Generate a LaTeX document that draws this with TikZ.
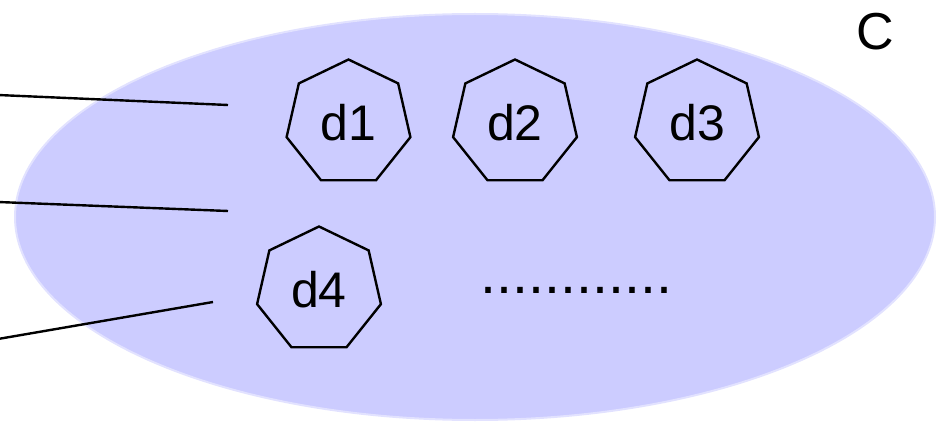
\documentclass[tikz,border=0pt]{standalone}
\usepackage{fontspec}
\setmainfont{Liberation Sans}
\usetikzlibrary{shapes.geometric}
\definecolor{setfill}{HTML}{CCCCFF}
\definecolor{setedge}{HTML}{E2E2FF}
\tikzset{
  hept/.style={regular polygon, regular polygon sides=7, minimum size=127pt, inner sep=0pt,
    draw=black, line width=2.4pt, font=\fontsize{50}{60}\selectfont},
  wire/.style={draw=black, line width=2.4pt},
  setshape/.style={ellipse, minimum width=920pt, minimum height=406pt, inner sep=0pt,
    fill=setfill, draw=setedge, line width=2pt}
}
\begin{document}
\begin{tikzpicture}[x=1pt,y=-1pt]
\useasboundingbox (0,0) rectangle (942,422);
\node[setshape] (set) at (475,217) {};
\node[font=\fontsize{52}{62}\selectfont] (C) at (875,32) {C};
\node[hept] (d1) at (348.5,123) {d1};
\node[hept] (d2) at (515,123) {d2};
\node[hept] (d3) at (697,123) {d3};
\node[hept] (d4) at (319,290) {d4};
\node[anchor=base west, inner sep=0pt, font=\fontsize{57.5}{66}\selectfont] (dots) at (480,293) {............};
\coordinate (a1) at (-2,95);
\coordinate (b1) at (228,105);
\coordinate (a2) at (-2,202);
\coordinate (b2) at (228,211);
\coordinate (a3) at (-2,339);
\coordinate (b3) at (213,302);
\draw[wire] (a1) -- (b1);
\draw[wire] (a2) -- (b2);
\draw[wire] (a3) -- (b3);
\end{tikzpicture}
\end{document}
